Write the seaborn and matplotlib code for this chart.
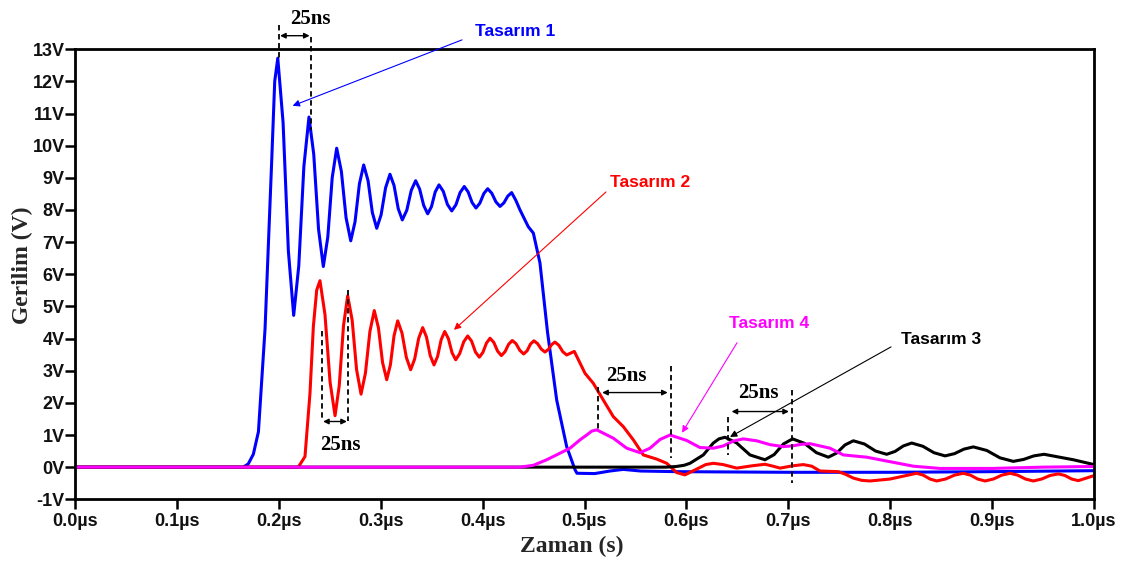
import numpy as np
import pandas as pd
import matplotlib
matplotlib.use("Agg")
import matplotlib.pyplot as plt
import seaborn as sns

# ---------------- data (time in µs, voltage in V) ----------------
t1 = [0.0, 0.160, 0.165, 0.170, 0.175, 0.180, 0.1865, 0.193, 0.196, 0.199,
      0.2042, 0.2094, 0.2146, 0.2196, 0.2246, 0.2296, 0.2343, 0.2390, 0.2437,
      0.2481, 0.2524, 0.2568, 0.2614, 0.2660, 0.2706, 0.2748, 0.2791, 0.2833,
      0.2876, 0.2918, 0.2961, 0.3004, 0.3048, 0.3091, 0.3131, 0.3172, 0.3212,
      0.3256, 0.3300, 0.3343, 0.3382, 0.3422, 0.3461, 0.3498, 0.3535, 0.3572,
      0.3614, 0.3655, 0.3697, 0.3738, 0.3779, 0.3820, 0.3858, 0.3897, 0.3935,
      0.3973, 0.4012, 0.4050, 0.4090, 0.4131, 0.4171, 0.4209, 0.4247, 0.4285,
      0.4326, 0.4367, 0.4448, 0.4498, 0.4563, 0.4637, 0.4727, 0.4825, 0.4907,
      0.4926, 0.510, 0.525, 0.538, 0.555, 0.590, 0.700, 0.800, 0.900, 1.000]
v1 = [0.0, 0.0, 0.0, 0.1, 0.4, 1.1, 4.3, 9.5, 12.0, 12.72,
      10.72, 6.72, 4.72, 6.26, 9.35, 10.89, 9.73, 7.40, 6.24,
      7.16, 9.00, 9.92, 9.20, 7.76, 7.04, 7.63, 8.81, 9.40,
      8.91, 7.92, 7.43, 7.85, 8.69, 9.11, 8.76, 8.04, 7.69,
      7.99, 8.61, 8.91, 8.65, 8.14, 7.88, 8.10, 8.56, 8.78,
      8.58, 8.17, 7.97, 8.16, 8.54, 8.73, 8.56, 8.23, 8.06,
      8.21, 8.51, 8.66, 8.52, 8.25, 8.11, 8.22, 8.43, 8.54,
      8.30, 8.00, 7.48, 7.28, 6.35, 4.20, 2.09, 0.64, -0.08,
      -0.19, -0.20, -0.12, -0.07, -0.12, -0.14, -0.16, -0.16, -0.14, -0.11]

t2 = [0.0, 0.2191, 0.2257, 0.2306, 0.2339, 0.2372, 0.2404,
      0.2453, 0.2503, 0.2552, 0.2593, 0.2635, 0.2676, 0.2720, 0.2763, 0.2807,
      0.2850, 0.2894, 0.2937, 0.2978, 0.3018, 0.3059, 0.3095, 0.3131, 0.3167,
      0.3209, 0.3252, 0.3294, 0.3333, 0.3373, 0.3412, 0.3449, 0.3486, 0.3523,
      0.3558, 0.3593, 0.3628, 0.3664, 0.3700, 0.3736, 0.3775, 0.3815, 0.3854,
      0.3892, 0.3930, 0.3968, 0.4003, 0.4038, 0.4073, 0.4110, 0.4147, 0.4184,
      0.4220, 0.4255, 0.4291, 0.4328, 0.4366, 0.4403, 0.4437, 0.4470, 0.4504,
      0.4540, 0.4576, 0.4612, 0.4645, 0.4677, 0.4710, 0.4748, 0.4787, 0.4825,
      0.4900, 0.5005, 0.5086, 0.5184, 0.5283, 0.5381,
      0.5479, 0.5577, 0.5709, 0.5807, 0.5905, 0.5986, 0.6101, 0.6190, 0.6264,
      0.6360, 0.6494, 0.6640, 0.6771, 0.6850, 0.6919, 0.7040, 0.7147, 0.7230,
      0.7311, 0.7491, 0.7560, 0.7638, 0.7720, 0.7802, 0.7998, 0.8260,
      0.8325, 0.8391, 0.8456, 0.8543, 0.8630, 0.8717, 0.8788, 0.8859, 0.8930,
      0.9012, 0.9094, 0.9176, 0.9252, 0.9328, 0.9404, 0.9486, 0.9568, 0.9650,
      0.9715, 0.9781, 0.9846, 0.9993]
v2 = [0.0, 0.0, 0.33, 2.30, 4.37, 5.51, 5.80,
      4.75, 2.65, 1.60, 2.53, 4.40, 5.33, 4.57, 3.04, 2.27,
      2.92, 4.22, 4.87, 4.33, 3.26, 2.72, 3.18, 4.09, 4.55,
      4.17, 3.41, 3.03, 3.36, 4.01, 4.34, 4.05, 3.47, 3.18,
      3.44, 3.96, 4.22, 4.00, 3.56, 3.34, 3.53, 3.90, 4.08,
      3.92, 3.58, 3.42, 3.57, 3.86, 4.01, 3.88, 3.61, 3.47,
      3.59, 3.82, 3.94, 3.84, 3.63, 3.52, 3.62, 3.83, 3.93,
      3.84, 3.67, 3.58, 3.66, 3.81, 3.89, 3.79, 3.59, 3.49,
      3.60, 2.92, 2.61, 2.09, 1.57, 1.26,
      0.85, 0.38, 0.25, 0.12, -0.17, -0.24, -0.06, 0.08, 0.12,
      0.08, -0.03, 0.04, 0.09, 0.03, -0.03, 0.04, 0.08, 0.03,
      -0.12, -0.14, -0.22, -0.34, -0.41, -0.43, -0.37, -0.19,
      -0.25, -0.37, -0.43, -0.37, -0.25, -0.19, -0.25, -0.37, -0.43,
      -0.37, -0.25, -0.19, -0.25, -0.37, -0.43, -0.37, -0.26, -0.21,
      -0.26, -0.37, -0.42, -0.27]

t3 = [0.0, 0.580, 0.590, 0.598, 0.6035, 0.6166, 0.6264, 0.6320, 0.6379, 0.6494,
      0.6624, 0.6771, 0.6861, 0.6952, 0.7042, 0.7159, 0.7276, 0.7393, 0.7475,
      0.7556, 0.7638, 0.7747, 0.7857, 0.7966, 0.8048, 0.8129, 0.8211, 0.8320,
      0.8429, 0.8538, 0.8631, 0.8723, 0.8816, 0.8947, 0.9077, 0.9208, 0.9309,
      0.9409, 0.9510, 0.9797, 1.000]
v3 = [0.0, 0.0, 0.02, 0.06, 0.12, 0.38, 0.75, 0.88, 0.93, 0.75,
      0.38, 0.23, 0.39, 0.72, 0.88, 0.74, 0.45, 0.31, 0.44,
      0.69, 0.82, 0.72, 0.50, 0.40, 0.49, 0.66, 0.75, 0.65,
      0.45, 0.35, 0.42, 0.56, 0.63, 0.52, 0.29, 0.18, 0.24,
      0.35, 0.40, 0.23, 0.08]

t4 = [0.0, 0.437, 0.450, 0.4629, 0.4858, 0.4956, 0.5022, 0.5070, 0.512, 0.5283,
      0.5414, 0.5545, 0.5643, 0.5741, 0.5839, 0.6003, 0.6133, 0.6264, 0.6362,
      0.6460, 0.6558, 0.6689, 0.6820, 0.6951, 0.7038, 0.7126, 0.7213, 0.7409,
      0.7540, 0.7769, 0.7998, 0.8227, 0.8489, 0.900, 0.950, 1.000]
v4 = [0.0, 0.0, 0.06, 0.23, 0.59, 0.85, 1.00, 1.12, 1.16, 0.90,
      0.59, 0.45, 0.59, 0.86, 1.00, 0.83, 0.61, 0.59, 0.66,
      0.81, 0.88, 0.82, 0.70, 0.64, 0.66, 0.71, 0.73, 0.59,
      0.38, 0.31, 0.17, 0.03, -0.04, -0.04, 0.00, 0.02]

series_names = ["Tasarım 1", "Tasarım 2", "Tasarım 3", "Tasarım 4"]
x_ticks = [0.0, 0.1, 0.2, 0.3, 0.4, 0.5, 0.6, 0.7, 0.8, 0.9, 1.0]
x_tick_labels = ["0.0µs", "0.1µs", "0.2µs", "0.3µs", "0.4µs", "0.5µs",
                 "0.6µs", "0.7µs", "0.8µs", "0.9µs", "1.0µs"]
y_ticks = list(range(-1, 14))
y_tick_labels = [f"{v}V" for v in y_ticks]

# ---------------- style ----------------
sns.set_style("ticks")
plt.rcParams["font.family"] = ["Liberation Sans", "DejaVu Sans"]

W, H = 1125, 566
fig = plt.figure(figsize=(W / 100, H / 100), dpi=100)
ax = fig.add_axes([75 / W, 1 - 499.3 / H, (1094 - 75) / W, (499.3 - 49.2) / H])

colors = {"Tasarım 1": "#0000ff", "Tasarım 2": "#ff0000",
          "Tasarım 3": "#000000", "Tasarım 4": "#ff00ff"}
data = {"Tasarım 1": (t1, v1), "Tasarım 2": (t2, v2),
        "Tasarım 3": (t3, v3), "Tasarım 4": (t4, v4)}

for name in ["Tasarım 1", "Tasarım 2", "Tasarım 3", "Tasarım 4"]:
    tt, vv = data[name]
    df = pd.DataFrame({"t": tt, "v": vv})
    sns.lineplot(data=df, x="t", y="v", color=colors[name], lw=2.2,
                 estimator=None, sort=False, ax=ax, legend=False)
for ln in ax.get_lines():
    ln.set_solid_joinstyle("round")

ax.set_xlim(0, 1.0)
ax.set_ylim(-1, 13)
ax.set_xticks(x_ticks)
ax.set_xticklabels(x_tick_labels)
ax.set_yticks(y_ticks)
ax.set_yticklabels(y_tick_labels)
for s in ax.spines.values():
    s.set_visible(True)
    s.set_color("black")
    s.set_linewidth(2.0)
ax.tick_params(axis="both", which="major", direction="out", length=7,
               width=1.8, color="black", labelsize=13, labelcolor="#111111",
               bottom=True, left=True, top=False, right=False)
ax.tick_params(axis="y", pad=0.5)
ax.tick_params(axis="x", pad=3)
for lab in ax.get_xticklabels() + ax.get_yticklabels():
    lab.set_fontweight("bold")

serif = ["Liberation Serif", "DejaVu Serif"]
ax.set_xlabel("Zaman (s)", fontsize=17, fontweight="bold", family=serif)
ax.xaxis.set_label_coords((572 - 75) / 1019, -0.082)
ax.set_ylabel("Gerilim (V)", fontsize=17, fontweight="bold", family=serif,
              va="center")
ax.yaxis.set_label_coords(-0.052, 0.52)

# ---------------- annotations ----------------
def dashed(x, y0, y1):
    ax.plot([x, x], [y0, y1], ls=(0, (3, 2)), color="black", lw=1.3,
            clip_on=False)

def span(x0, x1, y):
    ax.annotate("", xy=(x1, y), xytext=(x0, y),
                arrowprops=dict(arrowstyle="<|-|>", color="black", lw=1.0,
                                mutation_scale=8, shrinkA=1, shrinkB=1),
                annotation_clip=False)

def ns_text(x, y):
    ax.text(x, y, "25ns", ha="center", va="center", fontsize=15,
            fontweight="bold", family=serif, color="black", clip_on=False)

# top (Tasarım 1)
dashed(0.1999, 13.76, 12.67)
dashed(0.2316, 13.39, 10.5)
span(0.1999, 0.2316, 13.42)
ns_text(0.2306, 13.93)

# Tasarım 2
dashed(0.2421, 4.22, 1.42)
dashed(0.2682, 5.51, 1.42)
span(0.2421, 0.2682, 1.42)
ns_text(0.2607, 0.69)

# Tasarım 4
dashed(0.5130, 2.50, 1.11)
dashed(0.5846, 3.15, 0.28)
span(0.5160, 0.5830, 2.32)
ns_text(0.5414, 2.82)

# Tasarım 3
dashed(0.6411, 1.57, 0.38)
dashed(0.7039, 2.40, -0.50)
span(0.6430, 0.7020, 1.73)
ns_text(0.6706, 2.30)

def label(name, xy_text, xy_tail, xy_head):
    c = colors[name]
    ax.text(xy_text[0], xy_text[1], name, ha="center", va="center",
            fontsize=12.5, fontweight="bold", color=c, clip_on=False)
    ax.annotate("", xy=xy_head, xytext=xy_tail,
                arrowprops=dict(arrowstyle="-|>", color=c, lw=0.8,
                                mutation_scale=10, shrinkA=0, shrinkB=0),
                annotation_clip=False)

label("Tasarım 1", (0.4318, 13.54), (0.3798, 13.29), (0.2136, 11.24))
label("Tasarım 2", (0.5643, 8.84), (0.5211, 8.56), (0.3719, 4.27))
label("Tasarım 4", (0.6810, 4.46), (0.6497, 3.87), (0.5957, 1.07))
label("Tasarım 3", (0.8499, 3.96), (0.8008, 3.74), (0.6428, 0.94))

fig.savefig("out.png", dpi=100, facecolor="white")
